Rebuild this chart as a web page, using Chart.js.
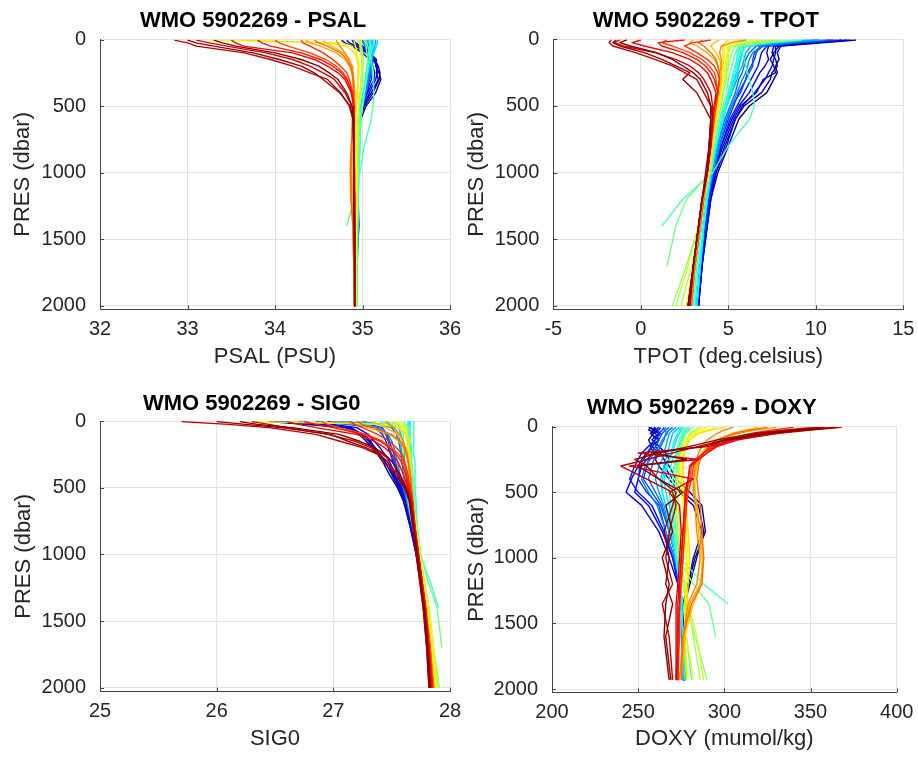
<!DOCTYPE html>
<html>
<head>
<meta charset="utf-8">
<title>WMO 5902269 profiles</title>
<script src="https://cdn.jsdelivr.net/npm/chart.js@4.4.1/dist/chart.umd.min.js"></script>
<style>
  html, body { margin: 0; padding: 0; background: #fff; }
  body { width: 918px; height: 757px; position: relative; overflow: hidden; }
  .panel { position: absolute; }
</style>
</head>
<body>
<div class="panel" id="psalPanel"><canvas id="psalChart"></canvas></div>
<div class="panel" id="tpotPanel"><canvas id="tpotChart"></canvas></div>
<div class="panel" id="sig0Panel"><canvas id="sig0Chart"></canvas></div>
<div class="panel" id="doxyPanel"><canvas id="doxyChart"></canvas></div>
<script>
// pressure levels (dbar) of the sampled profile points
const presLevels = [5, 25, 50, 100, 150, 200, 250, 300, 400, 500, 600, 800, 1000, 1200, 1400, 1700, 2000];
const doxyPresLevels = [5, 25, 50, 100, 150, 200, 250, 300, 400, 500, 600, 800, 1000, 1200, 1350, 1600, 1930];

// tick labels
const presTicks = [0, 500, 1000, 1500, 2000];
const psalTicks = [32, 33, 34, 35, 36];
const tpotTicks = [-5, 0, 5, 10, 15];
const sig0Ticks = [25, 26, 27, 28];
const doxyTicks = [200, 250, 300, 350, 400];

// one row per cycle, first cycle (blue) to last cycle (dark red)
const psalProfiles = [
  [34.82, 34.85, 34.92, 35.05, 35.14, 35.18, 35.20, 35.19, 35.12, 35.02, 34.97, 34.95, 34.94, 34.94, 34.93, 34.93, 34.92],
  [34.90, 34.92, 34.98, 35.08, 35.16, 35.15, 35.19, 35.21, 35.15, 35.04, 34.98, 34.95, 34.94, 34.93, 34.93, 34.92, 34.92],
  [34.95, 34.96, 35.00, 35.10, 35.12, 35.17, 35.16, 35.18, 35.10, 35.00, 34.96, 34.90, 34.88, 34.92, 34.95, 34.93, 34.92],
  [34.76, 34.80, 34.88, 35.00, 35.08, 35.12, 35.14, 35.13, 35.06, 34.99, 34.95, 34.94, 34.93, 34.95, 34.96, 34.93, 34.92],
  [34.88, 34.90, 34.95, 35.06, 35.13, 35.16, 35.17, 35.15, 35.08, 35.01, 34.96, 34.92, 34.90, 34.91, 34.93, 34.93, 34.92],
  [35.02, 35.03, 35.05, 35.09, 35.11, 35.12, 35.11, 35.10, 35.05, 35.00, 34.97, 34.95, 34.94, 34.94, 34.94, 34.93, 34.93],
  [35.06, 35.06, 35.07, 35.08, 35.10, 35.09, 35.10, 35.08, 35.04, 34.99, 34.96, 34.95, 34.94, 34.95, 34.95, 34.94, 34.93],
  [35.00, 35.01, 35.03, 35.06, 35.07, 35.08, 35.07, 35.06, 35.02, 34.98, 34.96, 34.95, 34.94, 34.94, 34.94, 34.93, 34.93],
  [35.10, 35.10, 35.11, 35.12, 35.11, 35.10, 35.09, 35.07, 35.03, 35.00, 34.97, 34.95, 34.95, 34.94, 34.94, 34.93, 34.93],
  [35.04, 35.05, 35.06, 35.08, 35.09, 35.09, 35.08, 35.07, 35.04, 35.00, 34.97, 34.95, 34.94, 34.94, 34.94, 34.93, 34.93],
  [35.15, 35.15, 35.14, 35.12, 35.10, 35.08, 35.06, 35.05, 35.02, 34.99, 34.97, 34.96, 34.95, 34.94, 34.94, 34.94, 34.93],
  [35.12, 35.12, 35.12, 35.11, 35.09, 35.07, 35.06, 35.04, 35.01, 34.98, 34.96, 34.95, 34.95, 34.94, 34.94, 34.93, 34.93],
  [35.17, 35.17, 35.16, 35.13, 35.10, 35.08, 35.06, 35.04, 35.01, 34.99, 34.98, 34.97, 34.96, 34.95, 34.94, 34.94, 34.93],
  [35.10, 35.10, 35.10, 35.09, 35.08, 35.07, 35.06, 35.05, 35.02, 35.00, 34.98, 34.96, 34.95, 34.94, 34.94, 34.93, 34.93],
  [35.08, 35.08, 35.08, 35.07, 35.06, 35.05, 35.04, 35.03, 35.01, 34.99, 34.97, 34.96, 34.95, 34.95, 34.94, 34.94, 34.93],
  [35.13, 35.13, 35.12, 35.10, 35.08, 35.06, 35.05, 35.04, 35.02, 35.00, 34.98, 34.97, 34.96, 34.95, 34.95, 34.94, 34.94],
  [35.05, 35.05, 35.06, 35.08, 35.10, 35.11, 35.12, 35.12, 35.13, 35.12, 35.10, 35.02, 34.97, 34.90, 34.82, null, null],
  [35.02, 35.03, 35.04, 35.05, 35.06, 35.06, 35.05, 35.04, 35.02, 35.00, 34.98, 34.96, 34.95, 34.93, 34.91, 34.90, null],
  [34.98, 34.98, 34.99, 35.00, 35.01, 35.01, 35.00, 35.00, 34.98, 34.97, 34.96, 34.95, 34.95, 34.94, 34.94, 34.93, 34.93],
  [34.95, 34.96, 34.97, 34.98, 34.99, 34.99, 34.99, 34.98, 34.97, 34.96, 34.95, 34.94, 34.94, 34.94, 34.93, 34.93, 34.93],
  [34.96, 34.97, 34.98, 34.99, 35.00, 35.00, 34.99, 34.99, 34.97, 34.96, 34.95, 34.94, 34.94, 34.94, 34.93, 34.93, 34.93],
  [33.25, 34.75, 34.88, 34.93, 34.95, 34.96, 34.96, 34.95, 34.94, 34.93, 34.93, 34.93, 34.93, 34.93, 34.92, 34.92, 34.92],
  [34.90, 34.91, 34.92, 34.94, 34.95, 34.96, 34.96, 34.95, 34.94, 34.93, 34.92, 34.92, 34.92, 34.92, 34.92, 34.92, 34.92],
  [33.60, 34.60, 34.82, 34.91, 34.94, 34.95, 34.95, 34.95, 34.94, 34.93, 34.92, 34.92, 34.92, 34.92, 34.92, 34.92, 34.92],
  [34.55, 34.58, 34.65, 34.78, 34.84, 34.87, 34.89, 34.90, 34.91, 34.91, 34.90, 34.89, 34.88, 34.89, 34.90, 34.91, 34.91],
  [34.35, 34.40, 34.52, 34.70, 34.80, 34.85, 34.88, 34.89, 34.90, 34.90, 34.89, 34.88, 34.87, 34.88, 34.90, 34.91, 34.91],
  [34.70, 34.72, 34.74, 34.80, 34.85, 34.88, 34.89, 34.90, 34.91, 34.91, 34.90, 34.88, 34.87, 34.87, 34.89, 34.90, 34.91],
  [34.45, 34.50, 34.60, 34.75, 34.82, 34.86, 34.88, 34.89, 34.90, 34.90, 34.89, 34.87, 34.86, 34.87, 34.89, 34.90, 34.91],
  [34.00, 34.05, 34.15, 34.40, 34.58, 34.70, 34.78, 34.83, 34.88, 34.90, 34.90, 34.90, 34.90, 34.90, 34.91, 34.91, 34.91],
  [34.30, 34.32, 34.40, 34.55, 34.66, 34.75, 34.82, 34.85, 34.89, 34.90, 34.90, 34.90, 34.90, 34.91, 34.91, 34.91, 34.91],
  [33.80, 33.85, 33.95, 34.30, 34.52, 34.66, 34.76, 34.82, 34.88, 34.90, 34.90, 34.90, 34.90, 34.91, 34.91, 34.91, 34.91],
  [33.50, 33.55, 33.64, 34.20, 34.45, 34.60, 34.72, 34.80, 34.87, 34.90, 34.90, 34.90, 34.91, 34.91, 34.91, 34.91, 34.91],
  [33.10, 33.25, 33.45, 33.90, 34.20, 34.40, 34.55, 34.68, 34.80, 34.88, 34.90, 34.90, 34.90, 34.91, 34.91, 34.91, 34.91],
  [32.85, 33.00, 33.10, 33.65, 33.95, 34.20, 34.40, 34.60, 34.75, 34.85, 34.89, 34.90, 34.90, 34.90, 34.91, 34.91, 34.91],
  [33.00, 33.10, 33.30, 33.75, 34.05, 34.30, 34.45, 34.55, 34.74, 34.86, 34.89, 34.90, 34.90, 34.90, 34.90, 34.91, 34.91],
  [33.30, 33.40, 33.55, 34.00, 34.30, 34.50, 34.62, 34.72, 34.82, 34.88, 34.90, 34.90, 34.90, 34.90, 34.91, 34.91, 34.91]
];

const tpotProfiles = [
  [12.3, 10.5, 8.0, 7.8, 7.9, 7.7, 7.8, 7.6, 7.2, 6.2, 5.6, 5.0, 4.4, 4.0, 3.8, 3.5, 3.3],
  [11.5, 9.8, 7.6, 7.5, 7.7, 7.8, 7.5, 7.4, 6.9, 5.9, 5.4, 4.8, 4.3, 3.9, 3.7, 3.5, 3.3],
  [12.0, 10.2, 7.9, 7.6, 7.4, 7.6, 7.7, 7.0, 6.6, 5.7, 5.3, 4.7, 4.2, 3.9, 3.7, 3.5, 3.2],
  [11.0, 9.0, 7.3, 7.2, 7.3, 7.1, 6.8, 6.6, 6.2, 5.6, 5.2, 4.6, 4.2, 3.9, 3.7, 3.4, 3.2],
  [11.8, 9.5, 7.7, 7.7, 7.6, 7.5, 7.3, 7.1, 6.5, 5.8, 5.4, 4.9, 4.3, 4.0, 3.8, 3.5, 3.3],
  [10.8, 9.0, 7.2, 6.9, 6.8, 6.7, 6.5, 6.3, 5.9, 5.5, 5.1, 4.6, 4.2, 3.9, 3.7, 3.4, 3.2],
  [10.2, 8.5, 6.8, 6.6, 6.5, 6.3, 6.1, 6.0, 5.6, 5.3, 5.0, 4.5, 4.1, 3.9, 3.7, 3.4, 3.2],
  [11.2, 9.2, 7.0, 6.5, 6.4, 6.4, 6.2, 6.0, 5.7, 5.2, 4.9, 4.5, 4.1, 3.8, 3.7, 3.4, 3.2],
  [9.8, 8.2, 6.6, 6.2, 6.0, 5.9, 5.8, 5.6, 5.4, 5.1, 4.8, 4.4, 4.1, 3.8, 3.6, 3.4, 3.2],
  [10.0, 8.6, 6.9, 6.4, 6.2, 6.1, 6.0, 5.8, 5.5, 5.2, 4.9, 4.5, 4.1, 3.8, 3.6, 3.4, 3.2],
  [10.5, 8.0, 6.3, 6.0, 5.9, 5.8, 5.6, 5.5, 5.2, 4.9, 4.7, 4.4, 4.1, 3.8, 3.6, 3.4, 3.2],
  [9.5, 7.6, 6.0, 5.8, 5.7, 5.6, 5.5, 5.3, 5.1, 4.9, 4.7, 4.3, 4.0, 3.8, 3.6, 3.4, 3.2],
  [6.0, 6.0, 5.9, 5.8, 5.7, 5.6, 5.5, 5.4, 5.2, 4.9, 4.7, 4.3, 4.0, 3.8, 3.6, 3.4, 3.2],
  [5.9, 5.9, 5.8, 5.7, 5.6, 5.5, 5.4, 5.3, 5.1, 4.9, 4.7, 4.3, 4.0, 3.8, 3.6, 3.4, 3.2],
  [5.6, 5.6, 5.6, 5.5, 5.5, 5.4, 5.3, 5.2, 5.0, 4.8, 4.6, 4.3, 4.0, 3.8, 3.6, 3.3, 3.1],
  [5.8, 5.8, 5.7, 5.6, 5.5, 5.4, 5.3, 5.2, 5.0, 4.8, 4.5, 4.2, 4.0, 3.7, 3.5, 3.2, 3.0],
  [9.2, 7.5, 6.0, 5.8, 5.9, 6.0, 6.1, 6.2, 6.4, 6.5, 6.2, 5.0, 4.1, 2.4, 1.2, null, null],
  [8.8, 7.0, 5.6, 5.4, 5.3, 5.2, 5.1, 5.0, 4.9, 4.7, 4.5, 4.2, 4.0, 2.6, 2.0, 1.5, null],
  [8.0, 6.5, 5.4, 5.2, 5.1, 5.0, 4.9, 4.9, 4.7, 4.6, 4.4, 4.1, 3.9, 3.6, 3.3, 2.6, 1.8],
  [7.5, 6.0, 5.2, 5.0, 5.0, 4.9, 4.9, 4.8, 4.6, 4.5, 4.3, 4.1, 3.9, 3.6, 3.4, 2.9, 2.3],
  [7.0, 5.8, 5.1, 5.0, 4.9, 4.9, 4.8, 4.8, 4.6, 4.5, 4.3, 4.1, 3.9, 3.6, 3.3, 2.7, 2.0],
  [6.5, 5.6, 5.0, 4.9, 4.9, 4.8, 4.8, 4.7, 4.6, 4.5, 4.3, 4.1, 3.9, 3.6, 3.4, 3.0, 2.6],
  [5.5, 5.2, 4.8, 4.8, 4.8, 4.7, 4.7, 4.6, 4.5, 4.4, 4.3, 4.1, 3.9, 3.6, 3.4, 3.1, 2.8],
  [5.0, 4.8, 4.7, 4.7, 4.7, 4.7, 4.6, 4.6, 4.5, 4.4, 4.3, 4.1, 3.9, 3.6, 3.4, 3.1, 2.7],
  [4.5, 4.2, 4.0, 4.3, 4.5, 4.6, 4.6, 4.6, 4.5, 4.3, 4.2, 4.0, 3.8, 3.6, 3.4, 3.1, 2.8],
  [3.0, 2.8, 3.2, 3.8, 4.2, 4.4, 4.5, 4.5, 4.4, 4.3, 4.2, 4.0, 3.8, 3.6, 3.4, 3.1, 2.9],
  [6.0, 5.2, 4.6, 4.5, 4.6, 4.6, 4.5, 4.5, 4.4, 4.3, 4.1, 3.9, 3.8, 3.6, 3.4, 3.1, 2.8],
  [3.5, 3.3, 3.6, 4.0, 4.3, 4.4, 4.5, 4.5, 4.4, 4.3, 4.2, 4.0, 3.8, 3.6, 3.4, 3.1, 2.9],
  [1.5, 1.2, 1.8, 2.8, 3.5, 3.9, 4.2, 4.3, 4.4, 4.3, 4.2, 4.0, 3.8, 3.5, 3.3, 3.0, 2.7],
  [4.0, 3.0, 2.5, 3.2, 3.8, 4.2, 4.4, 4.5, 4.4, 4.2, 4.1, 3.9, 3.8, 3.5, 3.3, 3.0, 2.8],
  [2.5, 1.0, 1.2, 2.4, 3.2, 3.7, 4.0, 4.2, 4.4, 4.2, 4.1, 3.9, 3.8, 3.5, 3.3, 3.0, 2.7],
  [0.0, -0.5, 0.2, 1.8, 2.8, 3.4, 3.8, 4.0, 4.3, 4.2, 4.1, 4.0, 3.8, 3.5, 3.3, 3.0, 2.7],
  [-1.2, -1.5, -1.0, 0.8, 2.0, 2.8, 3.3, 3.6, 4.0, 4.1, 4.1, 4.0, 3.8, 3.5, 3.3, 3.0, 2.8],
  [-1.7, -1.8, -1.6, -0.3, 0.8, 1.8, 2.5, 3.2, 3.6, 4.0, 4.1, 4.0, 3.8, 3.5, 3.3, 3.0, 2.7],
  [-1.4, -1.6, -1.2, 0.2, 1.2, 2.0, 2.8, 2.4, 3.2, 3.6, 4.0, 3.9, 3.7, 3.5, 3.3, 3.0, 2.8],
  [-0.8, -1.2, -0.6, 0.9, 1.8, 2.4, 3.0, 3.4, 3.8, 4.0, 4.0, 3.9, 3.8, 3.5, 3.3, 3.0, 2.7]
];

const sig0Profiles = [
  [26.45, 26.75, 27.10, 27.22, 27.28, 27.33, 27.38, 27.42, 27.48, 27.55, 27.60, 27.66, 27.71, 27.75, 27.78, 27.81, 27.83],
  [26.60, 26.90, 27.15, 27.25, 27.31, 27.36, 27.40, 27.44, 27.50, 27.56, 27.61, 27.67, 27.71, 27.75, 27.78, 27.81, 27.83],
  [26.50, 26.80, 27.12, 27.26, 27.32, 27.35, 27.39, 27.46, 27.52, 27.58, 27.62, 27.67, 27.72, 27.75, 27.78, 27.81, 27.83],
  [26.70, 27.00, 27.20, 27.30, 27.35, 27.40, 27.44, 27.48, 27.53, 27.58, 27.63, 27.68, 27.72, 27.76, 27.79, 27.81, 27.84],
  [26.55, 26.85, 27.13, 27.24, 27.30, 27.34, 27.39, 27.44, 27.51, 27.57, 27.61, 27.66, 27.71, 27.75, 27.78, 27.81, 27.83],
  [26.95, 27.15, 27.36, 27.42, 27.45, 27.47, 27.49, 27.51, 27.55, 27.59, 27.63, 27.68, 27.72, 27.76, 27.79, 27.82, 27.84],
  [27.10, 27.30, 27.42, 27.46, 27.48, 27.50, 27.52, 27.53, 27.56, 27.60, 27.64, 27.68, 27.72, 27.76, 27.79, 27.82, 27.84],
  [26.85, 27.10, 27.38, 27.45, 27.47, 27.48, 27.50, 27.52, 27.56, 27.60, 27.63, 27.68, 27.72, 27.76, 27.79, 27.82, 27.84],
  [27.25, 27.40, 27.50, 27.54, 27.56, 27.57, 27.58, 27.59, 27.60, 27.62, 27.65, 27.69, 27.73, 27.76, 27.79, 27.82, 27.84],
  [27.00, 27.22, 27.40, 27.47, 27.50, 27.52, 27.53, 27.55, 27.57, 27.60, 27.63, 27.68, 27.72, 27.76, 27.79, 27.82, 27.84],
  [27.05, 27.40, 27.52, 27.56, 27.57, 27.58, 27.59, 27.60, 27.62, 27.64, 27.66, 27.70, 27.73, 27.76, 27.79, 27.82, 27.85],
  [27.20, 27.45, 27.56, 27.58, 27.59, 27.60, 27.61, 27.61, 27.63, 27.65, 27.67, 27.70, 27.73, 27.76, 27.79, 27.82, 27.85],
  [27.64, 27.64, 27.64, 27.64, 27.65, 27.65, 27.65, 27.66, 27.66, 27.67, 27.68, 27.71, 27.74, 27.77, 27.80, 27.83, 27.86],
  [27.65, 27.65, 27.65, 27.65, 27.65, 27.66, 27.66, 27.66, 27.67, 27.67, 27.68, 27.71, 27.74, 27.77, 27.80, 27.83, 27.86],
  [27.66, 27.66, 27.66, 27.66, 27.66, 27.67, 27.67, 27.67, 27.68, 27.68, 27.69, 27.71, 27.74, 27.77, 27.80, 27.83, 27.86],
  [27.69, 27.69, 27.69, 27.69, 27.69, 27.69, 27.69, 27.70, 27.70, 27.70, 27.71, 27.72, 27.74, 27.77, 27.80, 27.84, 27.88],
  [27.40, 27.50, 27.58, 27.60, 27.60, 27.60, 27.60, 27.60, 27.61, 27.62, 27.64, 27.68, 27.74, 27.83, 27.90, null, null],
  [27.60, 27.62, 27.65, 27.66, 27.66, 27.67, 27.67, 27.67, 27.68, 27.69, 27.70, 27.72, 27.75, 27.81, 27.89, 27.93, null],
  [27.45, 27.55, 27.60, 27.62, 27.63, 27.64, 27.64, 27.65, 27.66, 27.67, 27.68, 27.71, 27.74, 27.78, 27.82, 27.86, 27.91],
  [27.55, 27.60, 27.63, 27.64, 27.65, 27.65, 27.66, 27.66, 27.67, 27.67, 27.68, 27.71, 27.74, 27.78, 27.81, 27.85, 27.89],
  [27.50, 27.58, 27.62, 27.63, 27.64, 27.65, 27.65, 27.66, 27.67, 27.67, 27.68, 27.71, 27.74, 27.78, 27.82, 27.86, 27.90],
  [26.30, 27.45, 27.58, 27.62, 27.63, 27.64, 27.64, 27.65, 27.66, 27.67, 27.68, 27.71, 27.74, 27.77, 27.81, 27.85, 27.88],
  [27.55, 27.58, 27.60, 27.62, 27.63, 27.64, 27.64, 27.65, 27.66, 27.67, 27.68, 27.70, 27.73, 27.77, 27.80, 27.84, 27.87],
  [26.60, 27.40, 27.56, 27.62, 27.64, 27.64, 27.65, 27.65, 27.66, 27.67, 27.68, 27.70, 27.73, 27.77, 27.80, 27.84, 27.87],
  [27.35, 27.38, 27.45, 27.55, 27.60, 27.62, 27.64, 27.65, 27.66, 27.67, 27.68, 27.70, 27.73, 27.76, 27.80, 27.83, 27.86],
  [27.10, 27.18, 27.30, 27.48, 27.56, 27.60, 27.62, 27.64, 27.65, 27.67, 27.68, 27.70, 27.73, 27.76, 27.79, 27.83, 27.86],
  [27.45, 27.48, 27.52, 27.57, 27.60, 27.62, 27.63, 27.64, 27.66, 27.67, 27.68, 27.70, 27.73, 27.76, 27.79, 27.83, 27.86],
  [27.20, 27.25, 27.35, 27.50, 27.57, 27.61, 27.63, 27.64, 27.66, 27.67, 27.68, 27.70, 27.73, 27.76, 27.79, 27.83, 27.86],
  [26.90, 26.95, 27.05, 27.28, 27.42, 27.50, 27.56, 27.60, 27.63, 27.66, 27.68, 27.70, 27.73, 27.76, 27.79, 27.83, 27.85],
  [27.15, 27.18, 27.25, 27.38, 27.48, 27.54, 27.59, 27.61, 27.64, 27.66, 27.68, 27.70, 27.73, 27.76, 27.79, 27.82, 27.85],
  [26.75, 26.85, 27.00, 27.25, 27.40, 27.48, 27.54, 27.58, 27.62, 27.65, 27.67, 27.70, 27.73, 27.76, 27.79, 27.82, 27.85],
  [26.60, 26.70, 26.85, 27.20, 27.35, 27.44, 27.50, 27.55, 27.60, 27.64, 27.67, 27.70, 27.73, 27.76, 27.79, 27.82, 27.84],
  [26.30, 26.45, 26.60, 26.95, 27.18, 27.32, 27.42, 27.50, 27.57, 27.63, 27.66, 27.69, 27.72, 27.75, 27.78, 27.81, 27.83],
  [25.70, 26.10, 26.45, 26.85, 27.05, 27.25, 27.38, 27.46, 27.55, 27.62, 27.66, 27.69, 27.71, 27.74, 27.77, 27.80, 27.82],
  [26.00, 26.25, 26.55, 26.98, 27.12, 27.28, 27.40, 27.42, 27.53, 27.61, 27.65, 27.68, 27.71, 27.74, 27.77, 27.80, 27.82],
  [26.20, 26.35, 26.65, 27.05, 27.22, 27.35, 27.44, 27.50, 27.57, 27.62, 27.66, 27.69, 27.72, 27.75, 27.78, 27.81, 27.83]
];

const doxyProfiles = [
  [260, 258, 262, 258, 262, 266, 268, 265, 270, 276, 285, 288, 284, 280, 277, 277, 277],
  [256, 260, 257, 262, 260, 263, 265, 268, 272, 280, 287, 289, 283, 279, 276, 276, 276],
  [263, 262, 259, 256, 258, 262, 260, 262, 268, 274, 282, 287, 282, 279, 277, 277, 277],
  [258, 256, 260, 262, 258, 255, 252, 250, 246, 243, 252, 262, 268, 273, 275, 276, 277],
  [259, 261, 258, 260, 257, 259, 255, 252, 250, 248, 256, 264, 270, 274, 276, 277, 277],
  [262, 260, 263, 260, 256, 252, 250, 248, 245, 250, 258, 265, 270, 273, 275, 276, 277],
  [265, 264, 262, 260, 258, 256, 253, 251, 250, 255, 262, 266, 271, 274, 275, 276, 277],
  [268, 266, 264, 262, 260, 258, 256, 255, 253, 258, 263, 268, 272, 274, 275, 276, 276],
  [270, 268, 266, 265, 263, 261, 259, 258, 256, 260, 264, 268, 272, 274, 275, 276, 276],
  [266, 265, 267, 264, 262, 259, 257, 254, 252, 256, 261, 266, 271, 274, 275, 276, 276],
  [272, 270, 268, 267, 266, 265, 264, 262, 260, 262, 265, 268, 272, 274, 275, 275, 276],
  [274, 272, 270, 269, 268, 267, 266, 265, 263, 264, 266, 269, 272, 274, 275, 276, 276],
  [276, 275, 274, 272, 271, 270, 268, 267, 265, 266, 268, 270, 272, 274, 275, 276, 277],
  [275, 274, 273, 271, 270, 269, 268, 266, 264, 264, 266, 269, 272, 274, 275, 276, 277],
  [278, 277, 276, 275, 273, 272, 270, 269, 268, 268, 269, 271, 273, 274, 275, 276, 278],
  [280, 279, 277, 275, 274, 273, 272, 271, 270, 270, 270, 271, 272, 274, 276, 278, 281],
  [279, 278, 277, 276, 275, 274, 273, 272, 272, 271, 271, 272, 274, 288, 302, null, null],
  [277, 276, 275, 274, 273, 272, 272, 271, 270, 270, 270, 271, 273, 282, 291, 295, null],
  [282, 280, 278, 276, 275, 274, 273, 273, 272, 272, 272, 273, 274, 276, 278, 283, 290],
  [285, 283, 280, 278, 276, 275, 274, 274, 273, 273, 273, 274, 275, 277, 279, 282, 286],
  [287, 284, 281, 278, 276, 275, 274, 274, 273, 273, 273, 274, 275, 276, 279, 284, 288],
  [295, 290, 284, 278, 276, 275, 274, 274, 274, 275, 276, 277, 278, 278, 277, 278, 282],
  [290, 286, 282, 279, 277, 276, 276, 275, 275, 276, 277, 278, 279, 278, 277, 277, 279],
  [300, 292, 285, 280, 278, 277, 276, 276, 276, 277, 278, 279, 280, 279, 278, 277, 278],
  [320, 312, 305, 295, 290, 287, 285, 284, 283, 283, 284, 285, 287, 287, 282, 277, 275],
  [330, 318, 308, 298, 292, 288, 286, 284, 282, 283, 284, 286, 288, 286, 280, 276, 275],
  [305, 300, 296, 290, 287, 285, 284, 283, 282, 282, 283, 284, 286, 284, 279, 276, 274],
  [325, 315, 306, 296, 291, 288, 286, 285, 284, 285, 286, 287, 288, 287, 281, 276, 275],
  [350, 335, 320, 303, 295, 290, 285, 281, 280, 278, 278, 277, 276, 275, 274, 273, 273],
  [340, 328, 316, 300, 292, 288, 284, 282, 281, 279, 278, 277, 276, 275, 274, 274, 273],
  [355, 340, 325, 305, 294, 288, 283, 280, 279, 277, 277, 276, 275, 274, 274, 273, 273],
  [362, 345, 330, 308, 296, 290, 285, 280, 279, 278, 277, 276, 275, 274, 273, 273, 272],
  [368, 350, 332, 305, 292, 250, 285, 245, 282, 268, 274, 275, 274, 273, 272, 272, 272],
  [358, 340, 322, 300, 285, 270, 255, 240, 255, 270, 272, 268, 266, 270, 264, 268, 270],
  [355, 338, 318, 296, 280, 262, 248, 255, 262, 272, 270, 265, 268, 266, 270, 266, 269],
  [365, 348, 326, 302, 288, 258, 278, 250, 262, 276, 266, 270, 264, 268, 266, 265, 268]
];

const fontFamily = "'Liberation Sans', Arial, Helvetica, sans-serif";
const textColor = '#262626';
const axisColor = '#444444';
const gridColor = '#e3e3e3';

// MATLAB-style jet colormap
function jet(t) {
  const clamp = v => Math.min(Math.max(v, 0), 1);
  const r = clamp(Math.min(4 * t - 1.5, -4 * t + 4.5));
  const g = clamp(Math.min(4 * t - 0.5, -4 * t + 3.5));
  const b = clamp(Math.min(4 * t + 0.5, -4 * t + 2.5));
  return `rgb(${Math.round(r * 255)},${Math.round(g * 255)},${Math.round(b * 255)})`;
}

// small inward tick marks on the left and bottom axes
const innerTicks = {
  id: 'innerTicks',
  beforeDatasetsDraw(chart) {
    const { ctx, chartArea, scales } = chart;
    ctx.save();
    ctx.strokeStyle = axisColor;
    ctx.lineWidth = 1;
    ctx.beginPath();
    scales.x.ticks.forEach(t => {
      const px = Math.round(scales.x.getPixelForValue(t.value)) + 0.5;
      ctx.moveTo(px, chartArea.bottom);
      ctx.lineTo(px, chartArea.bottom - 4);
    });
    scales.y.ticks.forEach(t => {
      const py = Math.round(scales.y.getPixelForValue(t.value)) + 0.5;
      ctx.moveTo(chartArea.left, py);
      ctx.lineTo(chartArea.left + 4, py);
    });
    ctx.stroke();
    ctx.restore();
  }
};

function buildDatasets(profiles, levels) {
  const n = profiles.length;
  return profiles.map((row, i) => ({
    data: levels
      .map((p, k) => ({ x: row[k], y: p }))
      .filter(pt => pt.x !== null),
    borderColor: jet(i / (n - 1)),
    borderWidth: 1.4,
    borderJoinStyle: 'round',
    pointRadius: 0,
    fill: false,
    order: n - 1 - i
  }));
}

// box: canvas placement; area: wanted plot area; the rest are text anchors
function makeProfileChart(id, panelId, cfg) {
  const { box, area } = cfg;
  const panel = document.getElementById(panelId);
  panel.style.left = box.left + 'px';
  panel.style.top = box.top + 'px';
  panel.style.width = box.width + 'px';
  panel.style.height = box.height + 'px';

  const titleLine = 22 * 1.2;
  const labelLine = 22 * 1.2;
  const yScaleLeft = box.left + cfg.padLeft;
  const yAxisWidth = area.left - yScaleLeft;
  const yTitlePad = cfg.yTitleMidX - yScaleLeft - labelLine / 2;
  // the chart title is centred on the whole layout box, so an empty right-hand
  // spacer axis shifts its centre to where MATLAB put it
  const titleBoxRight = 2 * cfg.titleCenterX - yScaleLeft;
  const spacerWidth = titleBoxRight - area.right;
  const padRight = box.left + box.width - titleBoxRight;
  const titlePadTop = cfg.titleMidY - box.top - titleLine / 2;
  const titlePadBottom = area.top - box.top - titlePadTop - titleLine;
  const xAxisHeight = cfg.xTitleMidY + labelLine / 2 - area.bottom;
  const padBottom = box.top + box.height - area.bottom - xAxisHeight;

  new Chart(document.getElementById(id), {
    type: 'line',
    data: { datasets: buildDatasets(cfg.profiles, cfg.levels) },
    plugins: [innerTicks],
    options: {
      responsive: true,
      maintainAspectRatio: false,
      animation: false,
      events: [],
      indexAxis: 'y',
      layout: { padding: { left: cfg.padLeft, right: padRight, top: 0, bottom: padBottom } },
      plugins: {
        legend: { display: false },
        tooltip: { enabled: false },
        title: {
          display: true,
          text: cfg.title,
          color: '#000000',
          fullSize: true,
          font: { family: fontFamily, size: 22, weight: 'bold' },
          padding: { top: titlePadTop, bottom: titlePadBottom }
        }
      },
      scales: {
        x: {
          type: 'linear',
          position: 'bottom',
          min: cfg.xMin,
          max: cfg.xMax,
          afterBuildTicks: s => { s.ticks = cfg.xTicks.map(v => ({ value: v })); },
          afterFit: s => { s.height = xAxisHeight; },
          grid: { color: gridColor, drawTicks: false },
          border: { color: axisColor, width: 1 },
          ticks: {
            color: textColor,
            font: { family: fontFamily, size: 20 },
            padding: 8,
            maxRotation: 0,
            autoSkip: false,
            callback: v => String(v)
          },
          title: {
            display: true,
            text: cfg.xLabel,
            color: textColor,
            font: { family: fontFamily, size: 22 },
            padding: { top: 0, bottom: 0 }
          }
        },
        y: {
          type: 'linear',
          position: 'left',
          reverse: true,
          min: 0,
          max: cfg.yMax,
          afterBuildTicks: s => { s.ticks = presTicks.map(v => ({ value: v })); },
          afterFit: s => { s.width = yAxisWidth; },
          grid: { color: gridColor, drawTicks: false },
          border: { color: axisColor, width: 1 },
          ticks: {
            color: textColor,
            font: { family: fontFamily, size: 20 },
            padding: 14,
            autoSkip: false,
            callback: v => String(v)
          },
          title: {
            display: true,
            text: 'PRES (dbar)',
            color: textColor,
            font: { family: fontFamily, size: 22 },
            padding: { top: yTitlePad, bottom: 0 }
          }
        },
        spacer: {
          type: 'linear',
          position: 'right',
          grid: { display: false },
          border: { display: false },
          ticks: { display: false },
          afterFit: s => { s.width = spacerWidth; }
        }
      }
    }
  });
}

makeProfileChart('psalChart', 'psalPanel', {
  title: 'WMO 5902269 - PSAL', xLabel: 'PSAL (PSU)',
  profiles: psalProfiles, levels: presLevels,
  xTicks: psalTicks, xMin: 32, xMax: 36, yMax: 2025,
  box: { left: 0, top: 0, width: 520, height: 380 }, padLeft: 4,
  area: { left: 100, right: 450, top: 39.5, bottom: 309.3 },
  titleCenterX: 253, titleMidY: 20.8, yTitleMidX: 23.1, xTitleMidY: 357.4
});

makeProfileChart('tpotChart', 'tpotPanel', {
  title: 'WMO 5902269 - TPOT', xLabel: 'TPOT (deg.celsius)',
  profiles: tpotProfiles, levels: presLevels,
  xTicks: tpotTicks, xMin: -5, xMax: 15, yMax: 2025,
  box: { left: 460, top: 0, width: 500, height: 380 }, padLeft: 0,
  area: { left: 553.3, right: 903.3, top: 39.3, bottom: 309.3 },
  titleCenterX: 705.8, titleMidY: 20.8, yTitleMidX: 477.4, xTitleMidY: 357.4
});

makeProfileChart('sig0Chart', 'sig0Panel', {
  title: 'WMO 5902269 - SIG0', xLabel: 'SIG0',
  profiles: sig0Profiles, levels: presLevels,
  xTicks: sig0Ticks, xMin: 25, xMax: 28, yMax: 2030,
  box: { left: 0, top: 376, width: 520, height: 381 }, padLeft: 4,
  area: { left: 100, right: 450, top: 421, bottom: 691.7 },
  titleCenterX: 251.7, titleMidY: 404, yTitleMidX: 24.1, xTitleMidY: 739.1
});

makeProfileChart('doxyChart', 'doxyPanel', {
  title: 'WMO 5902269 - DOXY', xLabel: 'DOXY (mumol/kg)',
  profiles: doxyProfiles, levels: doxyPresLevels,
  xTicks: doxyTicks, xMin: 200, xMax: 400, yMax: 2025,
  box: { left: 460, top: 376, width: 500, height: 381 }, padLeft: 0,
  area: { left: 552, right: 896.7, top: 426.7, bottom: 692.3 },
  titleCenterX: 701.7, titleMidY: 408.4, yTitleMidX: 477.4, xTitleMidY: 739.1
});
</script>
</body>
</html>
